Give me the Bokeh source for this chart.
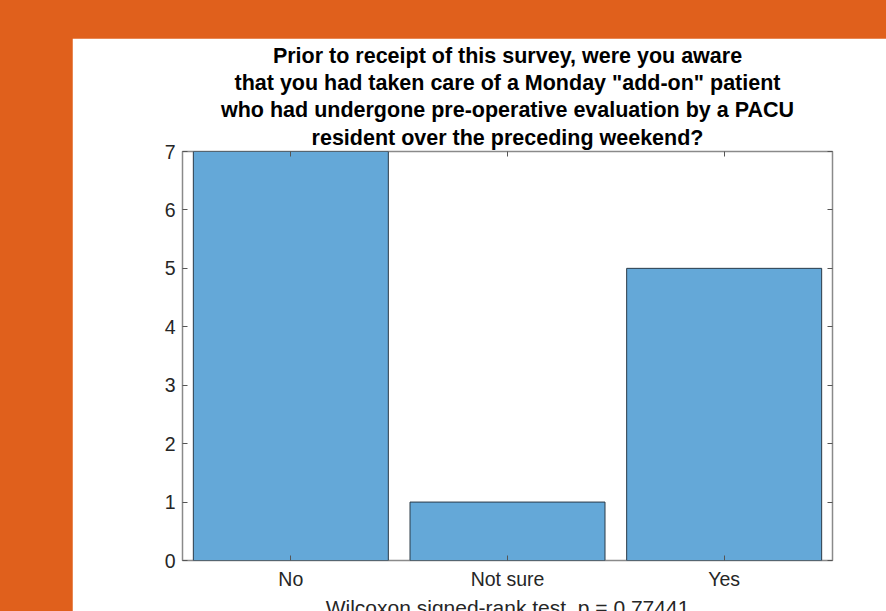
from bokeh.plotting import figure
from bokeh.models import FactorRange, Range1d, LinearAxis, CategoricalAxis, FixedTicker, ColumnDataSource, Title
from bokeh.embed import file_html
from bokeh.resources import INLINE

# ---- data ----
categories = ["No", "Not sure", "Yes"]
counts = [7, 1, 5]
y_ticks = [0, 1, 2, 3, 4, 5, 6, 7]
title_lines = [
    "Prior to receipt of this survey, were you aware",
    "that you had taken care of a Monday \"add-on\" patient",
    "who had undergone pre-operative evaluation by a PACU",
    "resident over the preceding weekend?",
]
x_label = "Wilcoxon signed-rank test, p = 0.77441"

ORANGE = "#E0601C"
BAR = "#64A8D8"
AXIS = "#8a8a8a"
TXT = "#262626"
FONT = "Liberation Sans"

p = figure(
    x_range=FactorRange(*categories, range_padding=0),
    y_range=Range1d(0, 7),
    frame_width=650, frame_height=409,
    output_backend="svg", toolbar_location=None,
    min_border_left=110, min_border_right=54, min_border_top=113, min_border_bottom=40,
    margin=(38, 0, 0, 72),
)
p.title.visible = False
p.background_fill_color = "white"
p.border_fill_color = "white"
p.outline_line_color = AXIS
p.outline_line_width = 1.5
p.xgrid.visible = False
p.ygrid.visible = False

src = ColumnDataSource(dict(cat=categories, val=counts))
p.vbar(x="cat", top="val", width=0.9, source=src, fill_color=BAR,
       line_color="#2b3a47", line_width=1)

def style_axis(ax, labels=True):
    ax.axis_line_color = None
    ax.major_tick_line_color = "#555555"
    ax.major_tick_line_width = 1
    ax.major_tick_in = 5
    ax.major_tick_out = 0
    ax.minor_tick_line_color = None
    ax.major_label_text_font = FONT
    ax.major_label_text_font_size = "19.5px"
    ax.major_label_text_color = TXT
    if not labels:
        ax.major_label_text_font_size = "0px"
        ax.major_label_text_color = None

ya = p.yaxis[0]
ya.ticker = FixedTicker(ticks=y_ticks)
style_axis(ya)
ya.major_label_standoff = 7

xa = p.xaxis[0]
style_axis(xa)
xa.major_label_standoff = 7
xa.axis_label = x_label
xa.axis_label_text_font = FONT
xa.axis_label_text_font_style = "normal"
xa.axis_label_text_font_size = "21px"
xa.axis_label_text_color = TXT
xa.axis_label_standoff = 3

ra = LinearAxis(ticker=FixedTicker(ticks=y_ticks))
style_axis(ra, labels=False)
p.add_layout(ra, "right")
ta = CategoricalAxis()
style_axis(ta, labels=False)
p.add_layout(ta, "above")

# title lines: innermost (last line) first, outer lines after
for i, line in enumerate(reversed(title_lines)):
    p.add_layout(Title(text=line, align="center", text_font=FONT,
                       text_font_style="bold", text_font_size="21.5px",
                       text_color="black", standoff=3 if i == 0 else 1), "above")

html = file_html(p, INLINE)
html = html.replace("</head>", "<style>html,body{background:%s;overflow:hidden;}</style></head>" % ORANGE, 1)
open("out.html", "w").write(html)
